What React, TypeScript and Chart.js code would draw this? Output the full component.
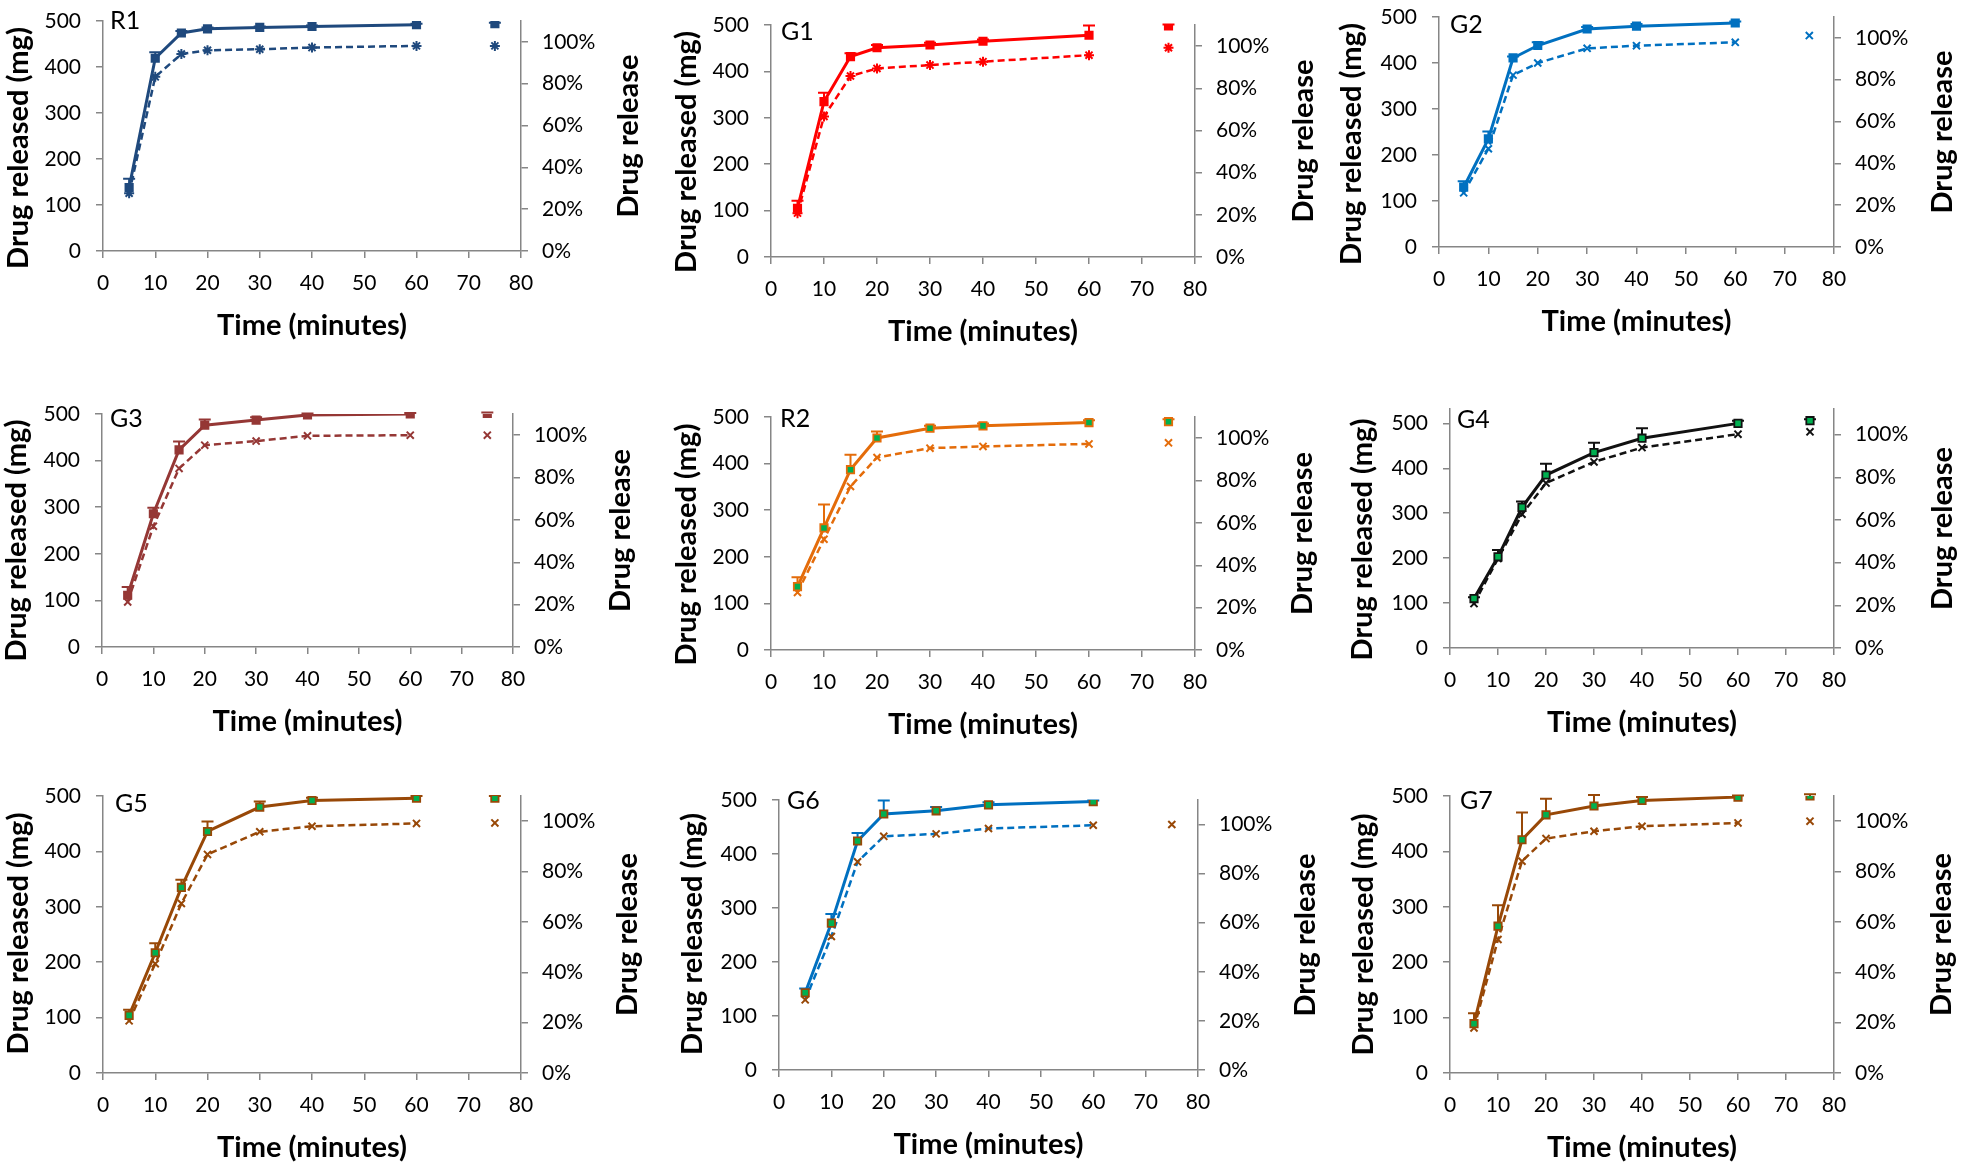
import React, { useEffect, useRef } from 'react';
import { Chart, registerables } from 'chart.js';

Chart.register(...registerables);

// ---------- data ----------
const TIMES = [5, 10, 15, 20, 30, 40, 60];
const X_TICK_STEP = 10;
const END_X = 75;
const PANEL_NAMES = ['R1', 'G1', 'G2', 'G3', 'R2', 'G4', 'G5', 'G6', 'G7'];

const R1_MG = [138, 419, 474, 483, 486, 488, 492];
const R1_ERR = [19, 13, 4, 3, 2, 2, 2];
const R1_PCT = [0.276, 0.833, 0.942, 0.96, 0.965, 0.973, 0.981];

const G1_MG = [105, 335, 432, 451, 457, 465, 478];
const G1_ERR = [16, 19, 7, 6, 5, 4, 21];
const G1_PCT = [0.208, 0.666, 0.858, 0.894, 0.91, 0.926, 0.957];

const G2_MG = [130, 235, 411, 438, 474, 480, 487];
const G2_ERR = [13, 16, 3, 7, 4, 5, 3];
const G2_PCT = [0.259, 0.47, 0.822, 0.88, 0.95, 0.963, 0.979];

const G3_MG = [111, 286, 423, 476, 487, 498, 500];
const G3_ERR = [18, 13, 18, 12, 6, 3, 2];
const G3_PCT = [0.213, 0.57, 0.843, 0.953, 0.972, 0.997, 1.0];

const R2_MG = [136, 262, 387, 455, 476, 481, 488];
const R2_ERR = [20, 50, 32, 14, 5, 5, 5];
const R2_PCT = [0.272, 0.523, 0.772, 0.909, 0.953, 0.961, 0.973];

const G4_MG = [110, 203, 313, 385, 435, 467, 500];
const G4_ERR = [3, 15, 13, 25, 22, 22, 6];
const G4_PCT = [0.208, 0.419, 0.627, 0.773, 0.872, 0.939, 1.002];

const G5_MG = [104, 217, 335, 436, 480, 492, 496];
const G5_ERR = [10, 17, 14, 18, 10, 5, 4];
const G5_PCT = [0.207, 0.434, 0.673, 0.868, 0.958, 0.98, 0.991];

const G6_MG = [143, 272, 424, 474, 480, 491, 497];
const G6_ERR = [8, 17, 15, 25, 7, 5, 2];
const G6_PCT = [0.286, 0.544, 0.848, 0.952, 0.962, 0.984, 0.997];

const G7_MG = [89, 265, 421, 466, 482, 492, 498];
const G7_ERR = [19, 38, 49, 29, 20, 6, 3];
const G7_PCT = [0.179, 0.53, 0.841, 0.931, 0.96, 0.98, 0.993];

const ALL_MG = [R1_MG, G1_MG, G2_MG, G3_MG, R2_MG, G4_MG, G5_MG, G6_MG, G7_MG];
const ALL_ERR = [R1_ERR, G1_ERR, G2_ERR, G3_ERR, R2_ERR, G4_ERR, G5_ERR, G6_ERR, G7_ERR];
const ALL_PCT = [R1_PCT, G1_PCT, G2_PCT, G3_PCT, R2_PCT, G4_PCT, G5_PCT, G6_PCT, G7_PCT];

// markers drawn at x = 75 in each panel
const END_MG = [494, 498, null, 501, 490, 506, 496, null, 500];
const END_ERR = [2, 3, 0, 2, 5, 3, 4, 0, 3];
const END_PCT = [0.981, 0.992, 1.011, 1.0, 0.978, 1.013, 0.993, 1.0, 1.0];

const LEFT_MAX = [500, 500, 500, 500, 500, 532, 500, 500, 500];
const RIGHT_MAX = [1.1, 1.1, 1.1, 1.1, 1.1, 1.12, 1.1, 1.1, 1.1];
const LEFT_STEP = 100;
const RIGHT_STEP = 0.2;

const X_TITLE = 'Time (minutes)';
const Y_TITLE = 'Drug released (mg)';
const Y2_TITLE = 'Drug release';

// ---------- styles ----------
const GREEN = '#00B050';
const STYLES = [
  { line: '#1F497D', mark: '#1F497D', fill: '#1F497D', cross: 'star' },
  { line: '#FF0000', mark: '#FF0000', fill: '#FF0000', cross: 'star' },
  { line: '#0070C0', mark: '#0070C0', fill: '#0070C0', cross: 'crossRot' },
  { line: '#953735', mark: '#953735', fill: '#953735', cross: 'crossRot' },
  { line: '#E46C0A', mark: '#E46C0A', fill: GREEN, cross: 'crossRot' },
  { line: '#111111', mark: '#111111', fill: GREEN, cross: 'crossRot' },
  { line: '#984807', mark: '#984807', fill: GREEN, cross: 'crossRot' },
  { line: '#0070C0', mark: '#984807', fill: GREEN, cross: 'crossRot' },
  { line: '#984807', mark: '#984807', fill: GREEN, cross: 'crossRot' },
];

// plot-area rectangles (page px) and text offsets
const LAYOUT = [
  { l: 103, t: 21, r: 521, b: 251, ldx: 7, ldy: 8, tdx: 84, tdy: 12, rdx: 108 },
  { l: 771, t: 25, r: 1195, b: 257, ldx: 10, ldy: 15, tdx: 84, tdy: 11, rdx: 109 },
  { l: 1439, t: 17, r: 1834, b: 247, ldx: 11, ldy: 16, tdx: 87, tdy: 12, rdx: 109 },
  { l: 102, t: 414, r: 513, b: 647, ldx: 8, ldy: 13, tdx: 85, tdy: 10, rdx: 108 },
  { l: 771, t: 417, r: 1195, b: 650, ldx: 9, ldy: 10, tdx: 84, tdy: 11, rdx: 108 },
  { l: 1450, t: 409, r: 1834, b: 648, ldx: 7, ldy: 19, tdx: 87, tdy: 11, rdx: 109 },
  { l: 103, t: 796, r: 521, b: 1073, ldx: 12, ldy: 16, tdx: 84, tdy: -1, rdx: 107 },
  { l: 779, t: 800, r: 1198, b: 1070, ldx: 8, ldy: 9, tdx: 86, tdy: -1, rdx: 108 },
  { l: 1450, t: 796, r: 1834, b: 1073, ldx: 10, ldy: 13, tdx: 86, tdy: 0, rdx: 108 },
];

const PAD_L = 110;
const PAD_R = 130;
const PAD_T = 40;
const PAD_B = 100;

const FONT = 'Lato, "Open Sans", sans-serif';
const AXIS_GRAY = '#868686';

const errorBarPlugin = {
  id: 'errorBars',
  beforeDatasetsDraw(chart: any) {
    const ctx = chart.ctx;
    chart.data.datasets.forEach((ds: any, i: number) => {
      if (!ds.errors) return;
      const meta = chart.getDatasetMeta(i);
      const ys = chart.scales[ds.yAxisID];
      meta.data.forEach((pt: any, j: number) => {
        const e = ds.errors[j];
        if (!e) return;
        const yTop = ys.getPixelForValue(ds.data[j].y + e);
        ctx.save();
        ctx.strokeStyle = ds.errorColor;
        ctx.lineWidth = 2;
        ctx.beginPath();
        ctx.moveTo(pt.x, pt.y);
        ctx.lineTo(pt.x, yTop);
        ctx.moveTo(pt.x - 6, yTop);
        ctx.lineTo(pt.x + 6, yTop);
        ctx.stroke();
        ctx.restore();
      });
    });
  },
};

const textPlugin = {
  id: 'panelText',
  afterDraw(chart: any, _args: any, opts: any) {
    const ctx = chart.ctx;
    const a = chart.chartArea;
    const cy = (a.top + a.bottom) / 2;
    const cx = (a.left + a.right) / 2;
    ctx.save();
    ctx.fillStyle = '#000';
    // panel label
    ctx.font = `25px ${FONT}`;
    ctx.textAlign = 'left';
    ctx.textBaseline = 'alphabetic';
    ctx.fillText(opts.name, a.left + opts.ldx, a.top + opts.ldy);
    // x title
    ctx.font = `bold 29px ${FONT}`;
    ctx.textAlign = 'center';
    ctx.textBaseline = 'middle';
    ctx.fillText(X_TITLE, cx, a.bottom + 75);
    // left title
    ctx.save();
    ctx.translate(a.left - opts.tdx, cy + opts.tdy);
    ctx.rotate(-Math.PI / 2);
    ctx.fillText(Y_TITLE, 0, 0);
    ctx.restore();
    // right title
    ctx.save();
    ctx.translate(a.right + opts.rdx, cy);
    ctx.rotate(-Math.PI / 2);
    ctx.fillText(Y2_TITLE, 0, 0);
    ctx.restore();
    ctx.restore();
  },
};

function Panel({ idx }: { idx: number }) {
  const ref = useRef<HTMLCanvasElement | null>(null);
  const L = LAYOUT[idx];
  const left = L.l - PAD_L;
  const top = L.t - PAD_T;
  const w = L.r - L.l + PAD_L + PAD_R;
  const h = L.b - L.t + PAD_T + PAD_B;

  useEffect(() => {
    const st = STYLES[idx];
    const mg = ALL_MG[idx];
    const err = ALL_ERR[idx];
    const pct = ALL_PCT[idx];
    const squarePoint = {
      pointStyle: 'rect',
      pointRadius: 5.2,
      pointBackgroundColor: st.fill,
      pointBorderColor: st.mark,
      pointBorderWidth: 1.8,
    };
    const crossPoint = {
      pointStyle: st.cross,
      pointRadius: 5,
      pointBackgroundColor: st.fill,
      pointBorderColor: st.mark,
      pointBorderWidth: 2,
    };
    const datasets: any[] = [
      {
        label: 'mg',
        data: TIMES.map((t, i) => ({ x: t, y: mg[i] })),
        yAxisID: 'y',
        borderColor: st.line,
        borderWidth: 3,
        ...squarePoint,
        errors: err,
        errorColor: st.line,
      },
      {
        label: 'pct',
        data: TIMES.map((t, i) => ({ x: t, y: pct[i] })),
        yAxisID: 'y1',
        borderColor: st.line,
        borderWidth: 2.5,
        borderDash: [7, 4],
        ...crossPoint,
      },
    ];
    if (END_MG[idx] != null) {
      datasets.push({
        label: 'end mg',
        data: [{ x: END_X, y: END_MG[idx] }],
        yAxisID: 'y',
        showLine: false,
        ...squarePoint,
        errors: [END_ERR[idx]],
        errorColor: st.line,
      });
    }
    if (END_PCT[idx] != null) {
      datasets.push({
        label: 'end pct',
        data: [{ x: END_X, y: END_PCT[idx] }],
        yAxisID: 'y1',
        showLine: false,
        ...crossPoint,
      });
    }

    const tickFont = { family: FONT, size: 21 };
    const chart = new Chart(ref.current as HTMLCanvasElement, {
      type: 'line',
      data: { datasets },
      plugins: [errorBarPlugin, textPlugin],
      options: {
        responsive: false,
        animation: false,
        devicePixelRatio: 1,
        events: [],
        layout: { padding: { top: PAD_T, left: 0, right: 0, bottom: 0 } },
        plugins: {
          legend: { display: false },
          tooltip: { enabled: false },
          panelText: {
            name: PANEL_NAMES[idx],
            ldx: L.ldx,
            ldy: L.ldy,
            tdx: L.tdx,
            tdy: L.tdy,
            rdx: L.rdx,
          },
        } as any,
        scales: {
          x: {
            type: 'linear',
            position: 'bottom',
            min: 0,
            max: 80,
            ticks: { stepSize: X_TICK_STEP, font: tickFont, color: '#000', padding: 13, maxRotation: 0, autoSkip: false },
            grid: { drawOnChartArea: false, drawTicks: true, tickLength: 7, color: AXIS_GRAY, lineWidth: 1.5 },
            border: { color: AXIS_GRAY, width: 1.5 },
            afterFit: (s: any) => {
              s.height = PAD_B;
            },
          },
          y: {
            type: 'linear',
            position: 'left',
            min: 0,
            max: LEFT_MAX[idx],
            ticks: { stepSize: LEFT_STEP, font: tickFont, color: '#000', padding: 15, includeBounds: false },
            grid: { drawOnChartArea: false, drawTicks: true, tickLength: 7, color: AXIS_GRAY, lineWidth: 1.5 },
            border: { color: AXIS_GRAY, width: 1.5 },
            afterFit: (s: any) => {
              s.width = PAD_L;
            },
          },
          y1: {
            type: 'linear',
            position: 'right',
            min: 0,
            max: RIGHT_MAX[idx],
            ticks: {
              stepSize: RIGHT_STEP,
              font: tickFont,
              color: '#000',
              padding: 14,
              includeBounds: false,
              callback: (v: any) => Math.round(Number(v) * 100) + '%',
            },
            grid: { drawOnChartArea: false, drawTicks: true, tickLength: 7, color: AXIS_GRAY, lineWidth: 1.5 },
            border: { color: AXIS_GRAY, width: 1.5 },
            afterFit: (s: any) => {
              s.width = PAD_R;
            },
          },
        },
      } as any,
    });
    return () => chart.destroy();
  }, [idx]);

  return (
    <canvas
      ref={ref}
      width={w}
      height={h}
      style={{ position: 'absolute', left, top, width: w, height: h }}
    />
  );
}

export default function App() {
  return (
    <div
      style={{
        position: 'absolute',
        left: 0,
        top: 0,
        width: 1961,
        height: 1166,
        overflow: 'hidden',
        background: '#fff',
      }}
    >
      {PANEL_NAMES.map((_, i) => (
        <Panel key={i} idx={i} />
      ))}
    </div>
  );
}
